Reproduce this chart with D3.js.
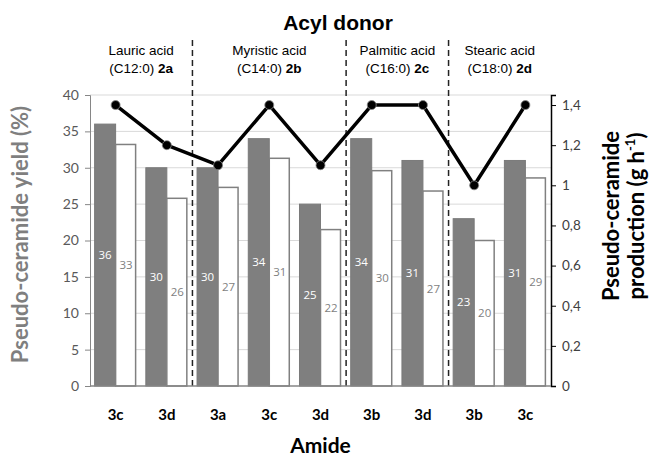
<!DOCTYPE html>
<html><head><meta charset="utf-8">
<script src="https://cdn.jsdelivr.net/npm/d3@7"></script>
<style>body{margin:0;background:#fff}</style>
</head><body>
<svg id="c" width="662" height="456"></svg>
<script>
const amides = ["3c","3d","3a","3c","3d","3b","3d","3b","3c"];
const yieldGrey = [36,30,30,34,25,34,31,23,31];
const yieldWhite = [33.2,25.8,27.3,31.3,21.5,29.6,26.8,20.0,28.6];
const labelsGrey = [36,30,30,34,25,34,31,23,31];
const labelsWhite = [33,26,27,31,22,30,27,20,29];
const production = [1.4,1.2,1.1,1.4,1.1,1.4,1.4,1.0,1.4];
const groups = [
  {name:"Lauric acid", code:"(C12:0) ", bold:"2a", start:0, end:2},
  {name:"Myristic acid", code:"(C14:0) ", bold:"2b", start:2, end:5},
  {name:"Palmitic acid", code:"(C16:0) ", bold:"2c", start:5, end:7},
  {name:"Stearic acid", code:"(C18:0) ", bold:"2d", start:7, end:9}
];
const leftTicks = [0,5,10,15,20,25,30,35,40];
const rightTicks = [0,0.2,0.4,0.6,0.8,1,1.2,1.4];

const L=90, R=551, T=95, B=386;
const svg = d3.select("#c");
const idx = d3.range(amides.length);
const x = d3.scaleBand().domain(idx).range([L,R]).paddingInner(0.18).paddingOuter(0.09);
const xs = d3.scaleBand().domain([0,1]).range([0,x.bandwidth()]);
const step = (R-L)/amides.length;
const y = d3.scaleLinear().domain([0,40]).range([B,T]);
const y2 = d3.scaleLinear().domain([0,1.45]).range([B,T]);
const boundary = i => L + i*step;
const FONT = "Lato, 'Open Sans', sans-serif";
const ARIAL = "'Liberation Sans', Arial, sans-serif";

// gridlines
svg.append("g").selectAll("line").data(leftTicks.slice(1)).join("line")
  .attr("x1",L).attr("x2",R).attr("y1",d=>y(d)).attr("y2",d=>y(d))
  .attr("stroke","#d9d9d9").attr("stroke-width",1);

// bars
const bars = svg.append("g");
bars.selectAll("rect.g").data(idx).join("rect").attr("class","g")
  .attr("x",i=>x(i)+xs(0)).attr("width",xs.bandwidth())
  .attr("y",i=>y(yieldGrey[i])).attr("height",i=>B-y(yieldGrey[i]))
  .attr("fill","#7f7f7f").attr("stroke","#7a7a7a").attr("stroke-width",1);
bars.selectAll("rect.w").data(idx).join("rect").attr("class","w")
  .attr("x",i=>x(i)+xs(1)).attr("width",xs.bandwidth()-1)
  .attr("y",i=>y(yieldWhite[i])).attr("height",i=>B-y(yieldWhite[i]))
  .attr("fill","#fff").attr("stroke","#808080").attr("stroke-width",1.5);

// bar labels
svg.append("g").selectAll("text.g").data(idx).join("text")
  .attr("x",i=>x(i)+xs(0)+xs.bandwidth()/2)
  .attr("y",i=>(y(yieldGrey[i])+B)/2+4)
  .attr("text-anchor","middle").attr("font-family","'Open Sans', sans-serif")
  .attr("font-size",11.5).attr("fill","#fff").text(i=>labelsGrey[i]);
svg.append("g").selectAll("text.w").data(idx).join("text")
  .attr("x",i=>x(i)+xs(1)+xs.bandwidth()/2)
  .attr("y",i=>(y(yieldWhite[i])+B)/2+4)
  .attr("text-anchor","middle").attr("font-family","'Open Sans', sans-serif")
  .attr("font-size",11.5).attr("fill","#7f7f7f").text(i=>labelsWhite[i]);

// separators
const seps = groups.slice(1).map(g=>g.start);
svg.append("g").selectAll("line").data(seps).join("line")
  .attr("x1",d=>boundary(d)).attr("x2",d=>boundary(d)).attr("y1",40).attr("y2",B)
  .attr("stroke","#222").attr("stroke-width",1.5).attr("stroke-dasharray","6,4");

// axes
const ga = svg.append("g").attr("transform",`translate(${L},0)`)
  .call(d3.axisLeft(y).tickValues(leftTicks).tickSize(5).tickPadding(6));
ga.select(".domain").attr("stroke","#868686");
ga.selectAll(".tick line").attr("stroke","#868686");
ga.selectAll("text").attr("font-family",FONT).attr("font-size",14).attr("fill","#595959");

const fmt = d => String(d).replace(".",",");
const gr = svg.append("g").attr("transform",`translate(${R},0)`)
  .call(d3.axisRight(y2).tickValues(rightTicks).tickSize(5).tickPadding(6).tickFormat(fmt));
gr.select(".domain").attr("stroke","#000").attr("stroke-width",1.5);
gr.selectAll(".tick line").attr("stroke","#000");
gr.selectAll("text").attr("font-family",FONT).attr("font-size",13.5).attr("fill","#404040");

svg.append("line").attr("x1",L).attr("x2",R).attr("y1",B).attr("y2",B).attr("stroke","#868686").attr("stroke-width",1.5);

// line series
const line = d3.line().x((d,i)=>x(i)+x.bandwidth()/2).y(d=>y2(d));
svg.append("path").datum(production).attr("d",line)
  .attr("fill","none").attr("stroke","#000").attr("stroke-width",3.5).attr("stroke-linejoin","round");
svg.append("g").selectAll("circle").data(production).join("circle")
  .attr("cx",(d,i)=>x(i)+x.bandwidth()/2).attr("cy",d=>y2(d)).attr("r",4.5)
  .attr("fill","#000").attr("stroke","#888").attr("stroke-width",0.8);

// x labels
svg.append("g").selectAll("text").data(idx).join("text")
  .attr("x",i=>x(i)+x.bandwidth()/2).attr("y",420)
  .attr("text-anchor","middle").attr("font-family",FONT)
  .attr("font-weight","bold").attr("font-size",15).attr("fill","#000").text(i=>amides[i]);

svg.append("text").attr("x",(L+R)/2).attr("y",453).attr("text-anchor","middle")
  .attr("font-family",FONT).attr("font-weight","bold").attr("font-size",21).text("Amide");

// title
svg.append("text").attr("x",338).attr("y",30).attr("text-anchor","middle")
  .attr("font-family",ARIAL).attr("font-weight","bold").attr("font-size",21).text("Acyl donor");

// group labels
const gl = svg.append("g").selectAll("g").data(groups).join("g");
gl.append("text").attr("x",g=>(boundary(g.start)+boundary(g.end))/2).attr("y",55)
  .attr("text-anchor","middle").attr("font-family",ARIAL).attr("font-size",13.5)
  .text(g=>g.name);
const t2 = gl.append("text").attr("x",g=>(boundary(g.start)+boundary(g.end))/2).attr("y",73)
  .attr("text-anchor","middle").attr("font-family",ARIAL).attr("font-size",13.5);
t2.append("tspan").text(g=>g.code);
t2.append("tspan").attr("font-weight","bold").text(g=>g.bold);

// y titles
svg.append("text").attr("transform",`translate(28,${(T+B)/2-6}) rotate(-90)`).attr("text-anchor","middle")
  .attr("font-family",FONT).attr("font-weight","bold").attr("font-size",22)
  .attr("fill","#7f7f7f").text("Pseudo-ceramide yield (%)");
const rt = svg.append("text").attr("transform",`translate(619,216) rotate(-90)`).attr("text-anchor","middle")
  .attr("font-family",FONT).attr("font-weight","bold").attr("font-size",22).attr("fill","#000");
rt.append("tspan").attr("x",0).attr("dy",0).text("Pseudo-ceramide");
rt.append("tspan").attr("x",0).attr("dy",25).text("production (g h");
rt.append("tspan").attr("font-size",13).attr("dy",-9).text("-1");
rt.append("tspan").attr("dy",9).text(")");
</script>
</body></html>
